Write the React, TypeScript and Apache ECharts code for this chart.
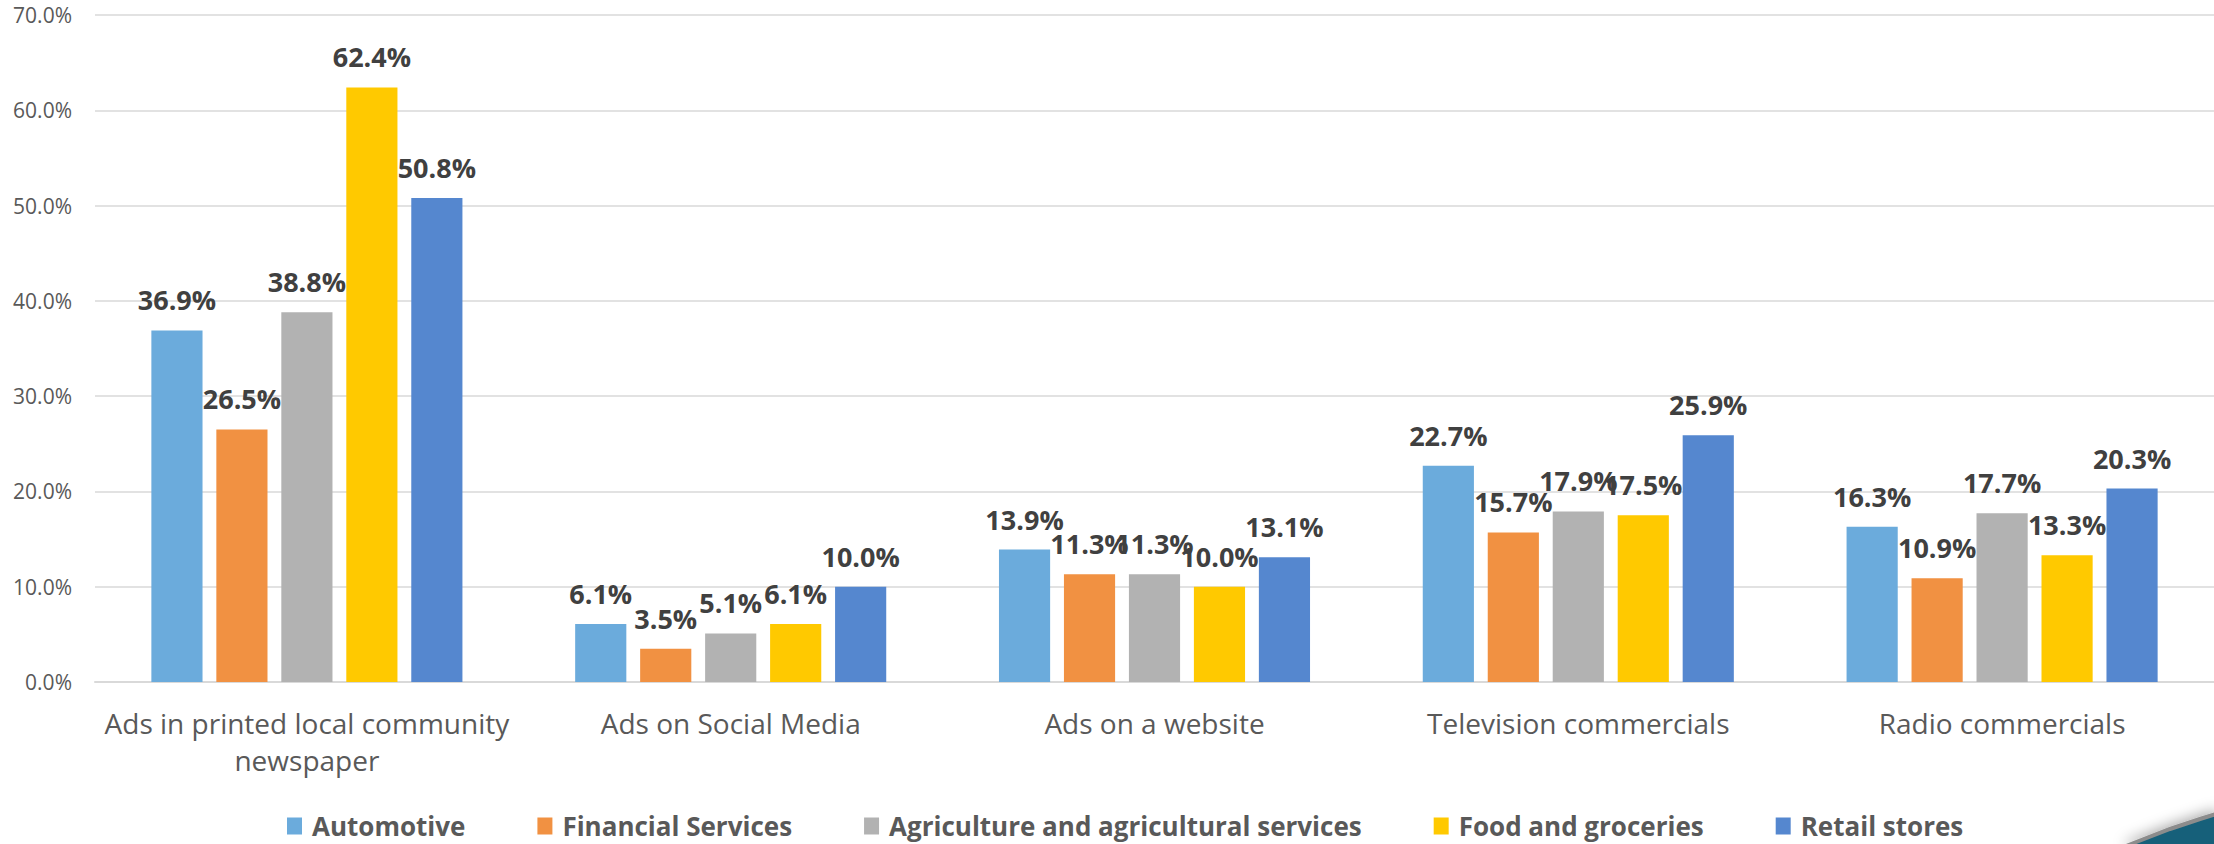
import React, { useEffect, useRef } from "react";
import * as echarts from "echarts";

const categories = [
  "Ads in printed local community newspaper",
  "Ads on Social Media",
  "Ads on a website",
  "Television commercials",
  "Radio commercials",
];
const seriesNames = [
  "Automotive",
  "Financial Services",
  "Agriculture and agricultural services",
  "Food and groceries",
  "Retail stores",
];
const automotive = [36.9, 6.1, 13.9, 22.7, 16.3];
const financial = [26.5, 3.5, 11.3, 15.7, 10.9];
const agriculture = [38.8, 5.1, 11.3, 17.9, 17.7];
const food = [62.4, 6.1, 10.0, 17.5, 13.3];
const retail = [50.8, 10.0, 13.1, 25.9, 20.3];
const seriesValues = [automotive, financial, agriculture, food, retail];
const colors = ["#6BABDC", "#F19142", "#B2B2B2", "#FFC900", "#5587CF"];
const yTicks = { min: 0, max: 70, interval: 10 };

export default function App() {
  const ref = useRef<HTMLDivElement>(null);
  useEffect(() => {
    if (!ref.current) return;
    const chart = echarts.init(ref.current, undefined, { renderer: "svg" });
    const font = "'Open Sans', 'Noto Sans', sans-serif";
    chart.setOption({
      animation: false,
      color: colors,
      grid: { left: 95, right: 0, top: 15, bottom: 162, containLabel: false },
      legend: {
        left: 287,
        top: 813,
        padding: 0,
        itemWidth: 15,
        itemHeight: 17,
        itemGap: 72,
        icon: "rect",
        textStyle: {
          fontFamily: font,
          fontSize: 26,
          fontWeight: "bold",
          color: "#595959",
          padding: [0, 0, 0, 5],
        },
        data: seriesNames,
      },
      xAxis: {
        type: "category",
        data: categories,
        axisTick: { show: false },
        axisLine: { lineStyle: { color: "#D9D9D9", width: 2 } },
        axisLabel: {
          interval: 0,
          margin: 22,
          fontFamily: font,
          fontSize: 28,
          lineHeight: 37,
          color: "#595959",
          formatter: (v: string) => v.replace("community ", "community\n"),
        },
      },
      yAxis: {
        type: "value",
        min: yTicks.min,
        max: yTicks.max,
        interval: yTicks.interval,
        axisLine: { show: false },
        axisTick: { show: false },
        splitLine: { lineStyle: { color: "#D9D9D9", width: 1.5 } },
        axisLabel: {
          margin: 23,
          fontFamily: font,
          fontSize: 21,
          color: "#595959",
          formatter: (v: number) => v.toFixed(1) + "%",
        },
      },
      series: seriesNames.map((name, i) => ({
        name,
        type: "bar",
        data: seriesValues[i],
        barGap: "27%",
        barCategoryGap: "26.6%",
        label: {
          show: true,
          position: "top",
          distance: 17,
          fontFamily: font,
          fontSize: 27,
          fontWeight: "bold",
          color: "#404040",
          formatter: (p: any) => Number(p.value).toFixed(1) + "%",
        },
      })),
      graphic: [
        {
          type: "polygon",
          shape: {
            points: [
              [2126, 846],
              [2170, 829],
              [2200, 819],
              [2216, 814],
              [2216, 846],
            ],
          },
          style: {
            fill: "#15607A",
            stroke: "#8C8C8C",
            lineWidth: 4,
            shadowBlur: 14,
            shadowColor: "rgba(0,0,0,0.35)",
            shadowOffsetY: -2,
          },
        },
      ],
    });
    return () => chart.dispose();
  }, []);
  return (
    <div
      ref={ref}
      style={{ position: "absolute", left: 0, top: 0, width: 2214, height: 844 }}
    />
  );
}
